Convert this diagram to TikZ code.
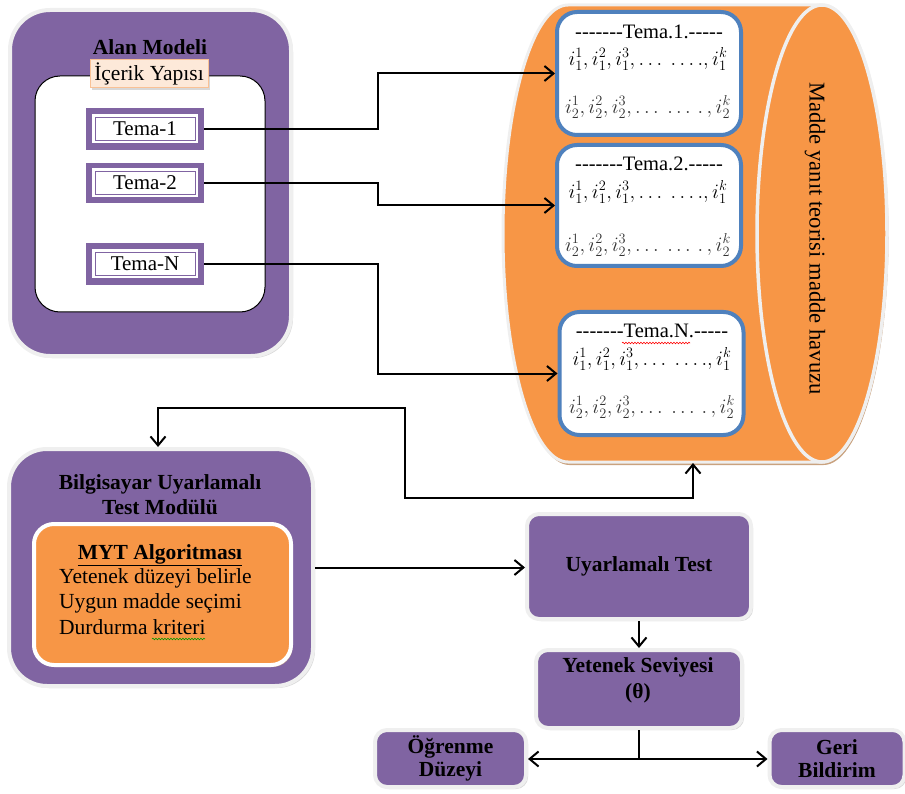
\RequirePackage{fix-cm}
\documentclass[tikz,border=0pt]{standalone}
\usepackage{fontspec}
\setmainfont{Liberation Serif}
\usetikzlibrary{arrows.meta,shadows,decorations.pathmorphing,calc}
\definecolor{purp}{HTML}{8064A2}
\definecolor{orng}{HTML}{F79646}
\definecolor{blu}{HTML}{4F81BD}
\definecolor{rimc}{HTML}{EFEFEF}
\definecolor{peach}{HTML}{FDE9D9}
\definecolor{peachline}{HTML}{F9C195}
\definecolor{tanshadow}{HTML}{C9A27F}
\newcommand\hyp{\mbox{-}}
\begin{document}
\begin{tikzpicture}[x=1pt,y=-1pt,
  txt/.style={font=\fontsize{21.5}{24}\selectfont, inner sep=0pt},
  mtxt/.style={font=\fontsize{20.5}{24}\selectfont, inner sep=0pt},
  btxt/.style={font=\fontsize{21.5}{25}\selectfont\bfseries, inner sep=0pt, align=center},
  softshadow/.style={drop shadow={shadow xshift=2pt, shadow yshift=-2pt, opacity=0.3}},
  bigbox/.style={rectangle, rounded corners=40pt, fill=purp, draw=rimc, line width=4pt, softshadow},
  smallbox/.style={rectangle, rounded corners=12pt, fill=purp, draw=rimc, line width=4pt, softshadow, btxt},
  temaout/.style={rectangle, fill=purp, minimum width=118pt, inner sep=0pt},
  temain/.style={rectangle, fill=white, minimum width=106pt, minimum height=29pt, txt, font=\fontsize{21}{24}\selectfont,
    path picture={\draw[purp, line width=0.8pt] ([shift={(3pt,-3pt)}]path picture bounding box.north west) rectangle ([shift={(-3pt,3pt)}]path picture bounding box.south east);}},
  bluebox/.style={rectangle, rounded corners=20pt, fill=white, draw=blu, line width=4pt, minimum width=184pt, minimum height=123pt},
  conn/.style={draw=black, line width=2pt, -{Straight Barb[length=9pt,width=15pt]}},
  squig/.style={line width=0.6pt, decorate, decoration={snake, amplitude=0.8pt, segment length=3pt}},
]
\useasboundingbox (0,0) rectangle (905,794);

% ---------- Alan Modeli ----------
\node[bigbox, minimum width=281pt, minimum height=346pt] (alan) at (150.5,183) {};
\node[btxt] (alant) at (150,47) {Alan Modeli};
\node[rectangle, rounded corners=25pt, fill=white, draw=black, line width=1pt, minimum width=230pt, minimum height=236pt] (icerik) at (150,194) {};
\node[txt, fill=peach, draw=peachline, line width=1pt, minimum width=118pt, minimum height=28pt, softshadow] (icl) at (149,74) {İçerik Yapısı};

\node[temaout, minimum height=42pt] (tm1) at (145,129) {};
\node[temain] (tm1i) at (145,129) {Tema-1};
\node[temaout, minimum height=40pt] (tm2) at (145,183) {};
\node[temain] (tm2i) at (145,183) {Tema-2};
\node[temaout, minimum height=42pt] (tmN) at (145,264) {};
\node[temain] (tmNi) at (145,264) {Tema-N};

% ---------- Cylinder ----------
\path[fill=orng, draw=rimc, line width=3pt, drop shadow={shadow xshift=1.5pt, shadow yshift=-3pt, fill=tanshadow, opacity=1}]
  (568,5) -- (822,5) arc[start angle=270, end angle=450, x radius=65, y radius=228.5]
  -- (568,462) arc[start angle=90, end angle=270, x radius=65, y radius=228.5] -- cycle;
\path[fill=orng, draw=rimc, line width=3.5pt] (822,233.5) ellipse[x radius=65, y radius=228.5];
\coordinate (cylbot) at (693,463);
\node[txt, font=\fontsize{22.6}{26}\selectfont, rotate=-90] (havuz) at (815,238.5) {Madde yanıt teorisi madde havuzu};

\node[bluebox] (T1) at (649,73.5) {};
\node[bluebox, minimum height=121pt] (T2) at (649,205.5) {};
\node[bluebox] (TN) at (651.5,373.5) {};

\node[mtxt] (T1h) at (649,32) {\hyp\hyp\hyp\hyp\hyp\hyp\hyp Tema.1.\hyp\hyp\hyp\hyp\hyp};
\node[mtxt] (T1a) at (648,59) {$i_1^1, i_1^2, i_1^3, \ldots\ \ldots., i_1^k$};
\node[mtxt, text=black!80] (T1b) at (648,107) {$i_2^1, i_2^2, i_2^3, \ldots\ \ldots\,.\,, i_2^k$};

\node[mtxt] (T2h) at (649,164) {\hyp\hyp\hyp\hyp\hyp\hyp\hyp Tema.2.\hyp\hyp\hyp\hyp\hyp};
\node[mtxt] (T2a) at (648,192) {$i_1^1, i_1^2, i_1^3, \ldots\ \ldots., i_1^k$};
\node[mtxt, text=black!80] (T2b) at (648,245) {$i_2^1, i_2^2, i_2^3, \ldots\ \ldots\,.\,, i_2^k$};

\node[mtxt] (TNh) at (652,331) {\hyp\hyp\hyp\hyp\hyp\hyp\hyp Tema.N.\hyp\hyp\hyp\hyp\hyp};
\node[mtxt] (TNa) at (652,359) {$i_1^1, i_1^2, i_1^3, \ldots\ \ldots., i_1^k$};
\node[mtxt, text=black!80] (TNb) at (652,407) {$i_2^1, i_2^2, i_2^3, \ldots\ \ldots\,.\,, i_2^k$};
\draw[squig, red] (622,343) -- (690,343);

% Tema connectors
\draw[conn] (tm1.east) -- ++(174,0) |- (T1.west);
\draw[conn] (tm2.east) -- ++(174,0) |- (T2.west);
\draw[conn] (tmN.east) -- ++(174,0) |- (TN.west);

% ---------- Bilgisayar Uyarlamali Test Modulu ----------
\node[bigbox, rounded corners=38pt, minimum width=304pt, minimum height=237pt] (bua) at (161,567.5) {};
\node[btxt] (buat) at (160,495) {Bilgisayar Uyarlamalı\\Test Modülü};
\node[rectangle, rounded corners=20pt, fill=orng, draw=white, line width=4pt, minimum width=257pt, minimum height=141pt,
      drop shadow={shadow xshift=1.5pt, shadow yshift=-2pt, fill=tanshadow, opacity=0.8}] (myt) at (162.5,594.5) {};
\node[btxt] (mytt) at (160,555) {\underline{MYT Algoritması}};
\node[txt, anchor=west] (myt1) at (59,578) {Yetenek düzeyi belirle};
\node[txt, anchor=west] (myt2) at (59,603) {Uygun madde seçimi};
\node[txt, anchor=west] (myt3) at (59,627) {Durdurma kriteri};
\draw[squig, green!60!black] (152,639) -- (205,639);

% loop connector between module and item pool
\draw[line width=2pt, {Straight Barb[length=9pt,width=15pt]}-{Straight Barb[length=9pt,width=15pt]}]
  ([xshift=-3pt]bua.north) |- (405,408) -- (405,498) -| (cylbot);

% ---------- Right-bottom flow ----------
\node[smallbox, minimum width=224pt, minimum height=105pt] (ut) at (639,566.5) {Uyarlamalı Test};
\node[smallbox, minimum width=206pt, minimum height=78pt] (ys) at (639,689) {};
\node[btxt, align=center, font=\fontsize{21.5}{26}\selectfont\bfseries] (yst) at (638,680) {Yetenek Seviyesi\\(θ)};
\node[smallbox, font=\fontsize{21.5}{23}\selectfont\bfseries, minimum width=151pt, minimum height=57pt] (od) at (450.5,758.5) {Öğrenme\\Düzeyi};
\node[smallbox, font=\fontsize{21.5}{23}\selectfont\bfseries, minimum width=135pt, minimum height=57pt] (gb) at (837,758.5) {Geri\\Bildirim};

\draw[conn] (bua.east) -- (bua.east -| ut.west);
\draw[conn] (ut.south) -- (ys.north);
\draw[line width=2pt] (ys.south) -- ++(0,29) coordinate (j);
\draw[conn] (j) -- (j -| od.east);
\draw[conn] (j) -- (j -| gb.west);
\end{tikzpicture}
\end{document}
